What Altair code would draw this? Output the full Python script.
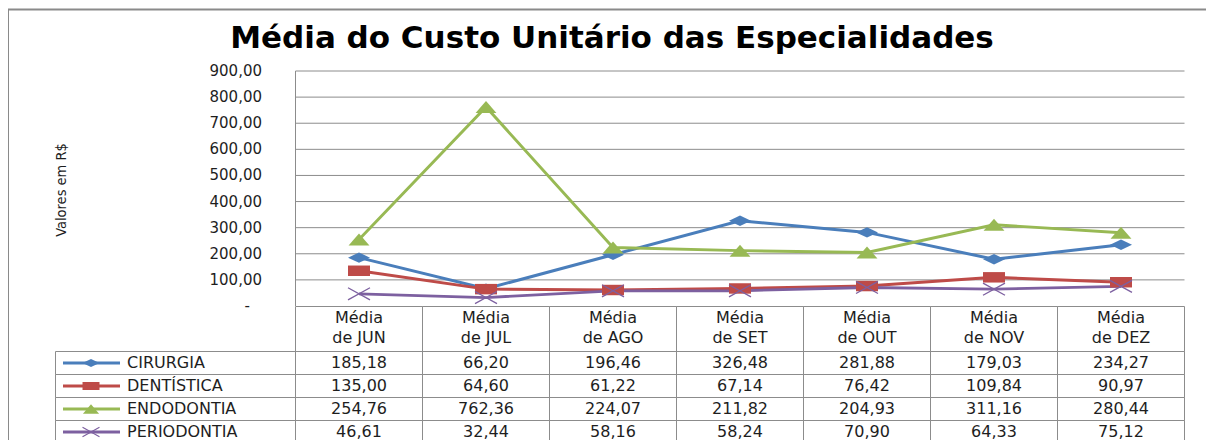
import altair as alt
import pandas as pd

# ---------------- data ----------------
titulo = "Média do Custo Unitário das Especialidades"
titulo_y = "Valores em R$"
meses = ["JUN", "JUL", "AGO", "SET", "OUT", "NOV", "DEZ"]
series = ["CIRURGIA", "DENTÍSTICA", "ENDODONTIA", "PERIODONTIA"]
cirurgia = [185.18, 66.20, 196.46, 326.48, 281.88, 179.03, 234.27]
dentistica = [135.00, 64.60, 61.22, 67.14, 76.42, 109.84, 90.97]
endodontia = [254.76, 762.36, 224.07, 211.82, 204.93, 311.16, 280.44]
periodontia = [46.61, 32.44, 58.16, 58.24, 70.90, 64.33, 75.12]
ticks = [0, 100, 200, 300, 400, 500, 600, 700, 800, 900]
cores = ["#4A7EBB", "#BE4B48", "#98B954", "#7D60A0"]

valores = [cirurgia, dentistica, endodontia, periodontia]
df = pd.DataFrame(
    [{"serie": s, "mes": m, "valor": v}
     for s, vals in zip(series, valores) for m, v in zip(meses, vals)]
)
df_ticks = pd.DataFrame({"tick": ticks})
df_meses = pd.DataFrame({"mes": meses})
df_series = pd.DataFrame({"serie": series})
df_text = pd.DataFrame({"t": [titulo]})
df_ytext = pd.DataFrame({"t": [titulo_y]})

# ---------------- styling ----------------
FONT = "DejaVu Sans"
GRID = "#8C8C8C"
TXT = "#1E1E1E"
W, H = 1198, 432
PX0, PX1 = 287.5, 1176.5       # plot area left/right (view coords)
PY0, PY1 = 298, 63             # value 0 / value 900
TY0, TY1 = 343.5, 435.5        # table data rows

paths = [
    "M-2,0L0,-0.95L2,0L0,0.95Z",            # diamond
    "M-2,-0.95L2,-0.95L2,0.95L-2,0.95Z",    # square
    "M-1.9,1.1L0,-1.1L1.9,1.1Z",            # triangle
    "M-2,-1.1L2,1.1M-2,1.1L2,-1.1",         # x
]

x_scale = alt.Scale(type="band", domain=meses, range=[PX0, PX1],
                    paddingInner=0, paddingOuter=0)
y_plot = alt.Scale(domain=[0, 900], range=[PY0, PY1], nice=False, zero=True)
y_tab = alt.Scale(type="band", domain=series, range=[TY0, TY1],
                  paddingInner=0, paddingOuter=0)
c_scale = alt.Scale(domain=series, range=cores)
s_scale = alt.Scale(domain=series, range=paths)
w_scale = alt.Scale(domain=series, range=[3, 2.8, 4, 3])

X = alt.X("mes:N", scale=x_scale, axis=None, bandPosition=0.5)
XB = alt.X("mes:N", scale=x_scale, axis=None)
COLOR = alt.Color("serie:N", scale=c_scale, legend=None)
SHAPE = alt.Shape("serie:N", scale=s_scale, legend=None)
YT = alt.Y("serie:N", scale=y_tab, axis=None, bandPosition=0.5)
YTB = alt.Y("serie:N", scale=y_tab, axis=None)

# frame
frame_top = alt.Chart(df_text).mark_rule(color="#8A8A8A", strokeWidth=2).encode(
    x=alt.value(0), x2=alt.value(W), y=alt.value(1.5))
frame_left = alt.Chart(df_text).mark_rule(color="#8A8A8A", strokeWidth=2).encode(
    x=alt.value(0), y=alt.value(1), y2=alt.value(H))

# title
title = alt.Chart(df_text).mark_text(
    font=FONT, fontSize=31, fontWeight="bold", color="#000000",
    align="center", baseline="middle").encode(
    x=alt.value(604), y=alt.value(31), text="t:N")

ytitle = alt.Chart(df_ytext).mark_text(
    font="DejaVu Sans Condensed, sans-serif",
    fontSize=14.5, angle=270, color=TXT, align="center", baseline="middle").encode(
    x=alt.value(54), y=alt.value(182), text="t:N")

# grid
grid = alt.Chart(df_ticks).transform_filter("datum.tick > 0").mark_rule(
    color=GRID, strokeWidth=1).encode(
    x=alt.value(PX0), x2=alt.value(PX1),
    y=alt.Y("tick:Q", scale=y_plot, axis=None))
left_axis = alt.Chart(df_text).mark_rule(color=GRID, strokeWidth=1).encode(
    x=alt.value(PX0), y=alt.value(PY1), y2=alt.value(PY0))

tick_labels = alt.Chart(df_ticks).transform_filter("datum.tick > 0").transform_calculate(
    lab="replace(format(datum.tick, '.2f'), '.', ',')").mark_text(
    font=FONT, fontSize=15, color=TXT, align="right", baseline="middle").encode(
    x=alt.value(254), y=alt.Y("tick:Q", scale=y_plot, axis=None), text="lab:N")
zero_label = alt.Chart(df_ticks).transform_filter("datum.tick == 0").transform_calculate(
    lab="'-'").mark_text(
    font=FONT, fontSize=15, color=TXT, align="right", baseline="middle").encode(
    x=alt.value(242), y=alt.Y("tick:Q", scale=y_plot, axis=None), text="lab:N")

# lines & markers
lines = alt.Chart(df).mark_line().encode(
    x=X, y=alt.Y("valor:Q", scale=y_plot, axis=None), color=COLOR,
    strokeWidth=alt.StrokeWidth("serie:N", scale=w_scale, legend=None),
    detail="serie:N")
pts_filled = alt.Chart(df).transform_filter("datum.serie != 'PERIODONTIA'").mark_point(
    filled=True, opacity=1, size=121).encode(
    x=X, y=alt.Y("valor:Q", scale=y_plot, axis=None), color=COLOR, shape=SHAPE)
pts_x = alt.Chart(df).transform_filter("datum.serie == 'PERIODONTIA'").mark_point(
    filled=False, opacity=1, size=121, strokeWidth=1.3).encode(
    x=X, y=alt.Y("valor:Q", scale=y_plot, axis=None), color=COLOR, shape=SHAPE)

# table header
header_cells = alt.Chart(df_meses).mark_rect(
    fill="white", fillOpacity=0, stroke=GRID, strokeWidth=1).encode(
    x=XB, y=alt.value(PY0 + 0.5), y2=alt.value(TY0))
header_text = alt.Chart(df_meses).transform_calculate(
    cab="'Média\\nde ' + datum.mes").mark_text(
    font=FONT, fontSize=16, color=TXT, align="center", baseline="middle",
    lineBreak="\n", lineHeight=20).encode(
    x=X, y=alt.value(310), text="cab:N")

# table cells
cells = alt.Chart(df).mark_rect(
    fill="white", fillOpacity=0, stroke=GRID, strokeWidth=1).encode(x=XB, y=YTB)
cell_text = alt.Chart(df).transform_calculate(
    lab="replace(format(datum.valor, '.2f'), '.', ',')").mark_text(
    font=FONT, fontSize=16, color=TXT, align="center", baseline="middle").encode(
    x=X, y=YT, text="lab:N")

# legend column of table
leg_cells = alt.Chart(df_series).mark_rect(
    fill="white", fillOpacity=0, stroke=GRID, strokeWidth=1).encode(
    x=alt.value(47.5), x2=alt.value(PX0), y=YTB)
leg_lines = alt.Chart(df_series).mark_rule(strokeWidth=3).encode(
    x=alt.value(55), x2=alt.value(112), y=YT, color=COLOR)
leg_pts = alt.Chart(df_series).transform_filter("datum.serie != 'PERIODONTIA'").mark_point(
    filled=True, opacity=1, size=72).encode(
    x=alt.value(83), y=YT, color=COLOR, shape=SHAPE)
leg_x = alt.Chart(df_series).transform_filter("datum.serie == 'PERIODONTIA'").mark_point(
    filled=False, opacity=1, size=72, strokeWidth=1.2).encode(
    x=alt.value(83), y=YT, color=COLOR, shape=SHAPE)
leg_text = alt.Chart(df_series).mark_text(
    font=FONT, fontSize=16, color=TXT, align="left", baseline="middle").encode(
    x=alt.value(119), y=YT, text="serie:N")

chart = alt.layer(
    frame_top, frame_left, title, ytitle,
    grid, left_axis, tick_labels, zero_label,
    header_cells, header_text, cells, cell_text,
    leg_cells, leg_lines, leg_pts, leg_x, leg_text,
    lines, pts_filled, pts_x,
).resolve_scale(y="independent").properties(
    width=W, height=H, padding=0,
    autosize=alt.AutoSizeParams(type="none"),
    background="white",
).configure_view(strokeWidth=0)

chart.save("out.html", embed_options={"renderer": "svg", "actions": False})
